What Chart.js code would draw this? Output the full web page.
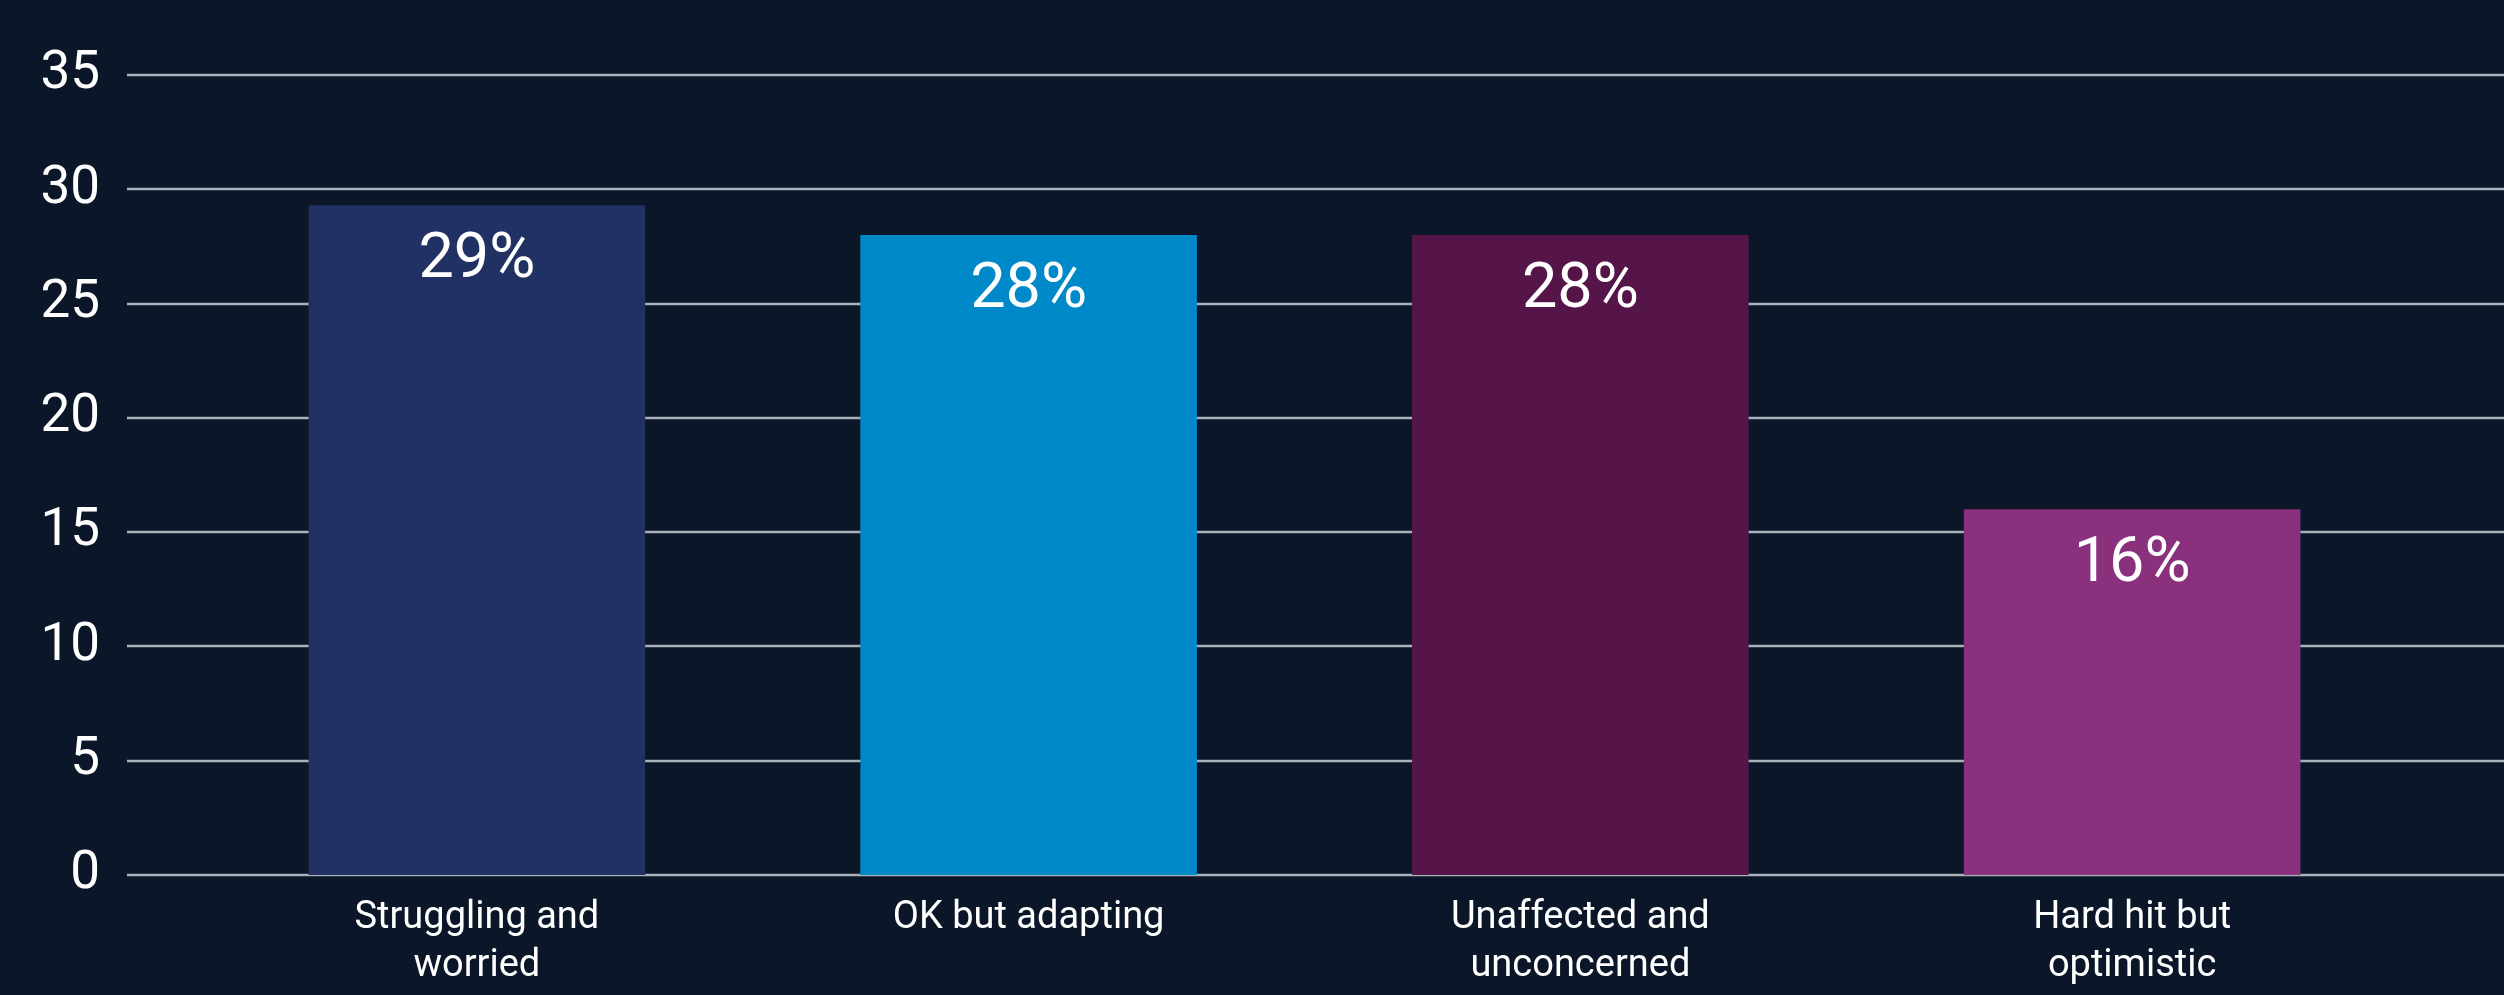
<!DOCTYPE html>
<html>
<head>
<meta charset="utf-8">
<script src="https://cdn.jsdelivr.net/npm/chart.js@4/dist/chart.umd.min.js"></script>
<style>
    html, body { margin: 0; padding: 0; background: #0b1628; }
    canvas { display: block; }
</style>
</head>
<body>
<canvas id="outlook_chart" width="2504" height="995"></canvas>
<script>
const categories = [
    ['Struggling and', 'worried'],
    ['OK but adapting'],
    ['Unaffected and', 'unconcerned'],
    ['Hard hit but', 'optimistic']
]
const shares = [29.3, 28, 28, 16]
const bar_colors = ['#223163', '#0089c9', '#561548', '#89317d']
const y_ticks = [0, 5, 10, 15, 20, 25, 30, 35]

const font_family = 'Roboto, "Noto Sans", sans-serif'

// horizontal rules run past the plot area, from the labels to the right edge
const grid_lines = {
    id: 'grid_lines',
    beforeDatasetsDraw(chart)
    {
        const ctx = chart.ctx
        const y = chart.scales.y
        ctx.save()
        ctx.strokeStyle = '#aab0b7'
        ctx.lineWidth = 2.5
        y_ticks.forEach(v => {
            const py = Math.round(y.getPixelForValue(v))
            ctx.beginPath()
            ctx.moveTo(127, py)
            ctx.lineTo(chart.width, py)
            ctx.stroke()
        })
        ctx.restore()
    }
}

const bar_labels = {
    id: 'bar_labels',
    afterDatasetsDraw(chart)
    {
        const ctx = chart.ctx
        const meta = chart.getDatasetMeta(0)
        ctx.save()
        ctx.fillStyle = '#ffffff'
        ctx.font = '63px ' + font_family
        ctx.textAlign = 'center'
        ctx.textBaseline = 'middle'
        meta.data.forEach((bar, i) => {
            ctx.fillText(Math.round(shares[i]) + '%', bar.x, bar.y + 56)
        })
        ctx.restore()
    }
}

let outlook_chart = null

function load_outlook_chart()
{
    const ctx = document.getElementById('outlook_chart').getContext('2d')

    if(outlook_chart)
        outlook_chart.destroy()

    outlook_chart = new Chart(ctx,
        {
            type: 'bar',
            data: {
                labels: categories,
                datasets: [{
                    data: shares,
                    backgroundColor: bar_colors,
                    categoryPercentage: 1,
                    barPercentage: 0.61
                }]
            },
            options: {
                responsive: false,
                animation: false,
                layout: {
                    padding: { top: 75, right: 96, left: 0, bottom: 0 }
                },
                plugins: {
                    legend: { display: false },
                    tooltip: { enabled: false }
                },
                scales: {
                    x: {
                        grid: { display: false, drawTicks: false },
                        border: { display: false },
                        ticks: {
                            color: '#ffffff',
                            font: { family: font_family, size: 38, lineHeight: 1.26 },
                            padding: 20,
                            maxRotation: 0,
                            autoSkip: false
                        },
                        afterFit(scale) { scale.height = 120 }
                    },
                    y: {
                        min: 0,
                        max: 35,
                        grid: { display: false, drawTicks: false },
                        border: { display: false },
                        afterBuildTicks(scale) { scale.ticks = y_ticks.map(v => ({ value: v })) },
                        ticks: {
                            color: '#ffffff',
                            font: { family: font_family, size: 53 },
                            padding: 101
                        },
                        afterFit(scale) {
                            // the large tick padding would otherwise also pad the top and bottom
                            scale.width = 201
                            scale.paddingTop = 0
                            scale.paddingBottom = 0
                        }
                    }
                }
            },
            plugins: [grid_lines, bar_labels]
        }
    )
}

function init()
{
    load_outlook_chart()
}

init()
</script>
</body>
</html>
